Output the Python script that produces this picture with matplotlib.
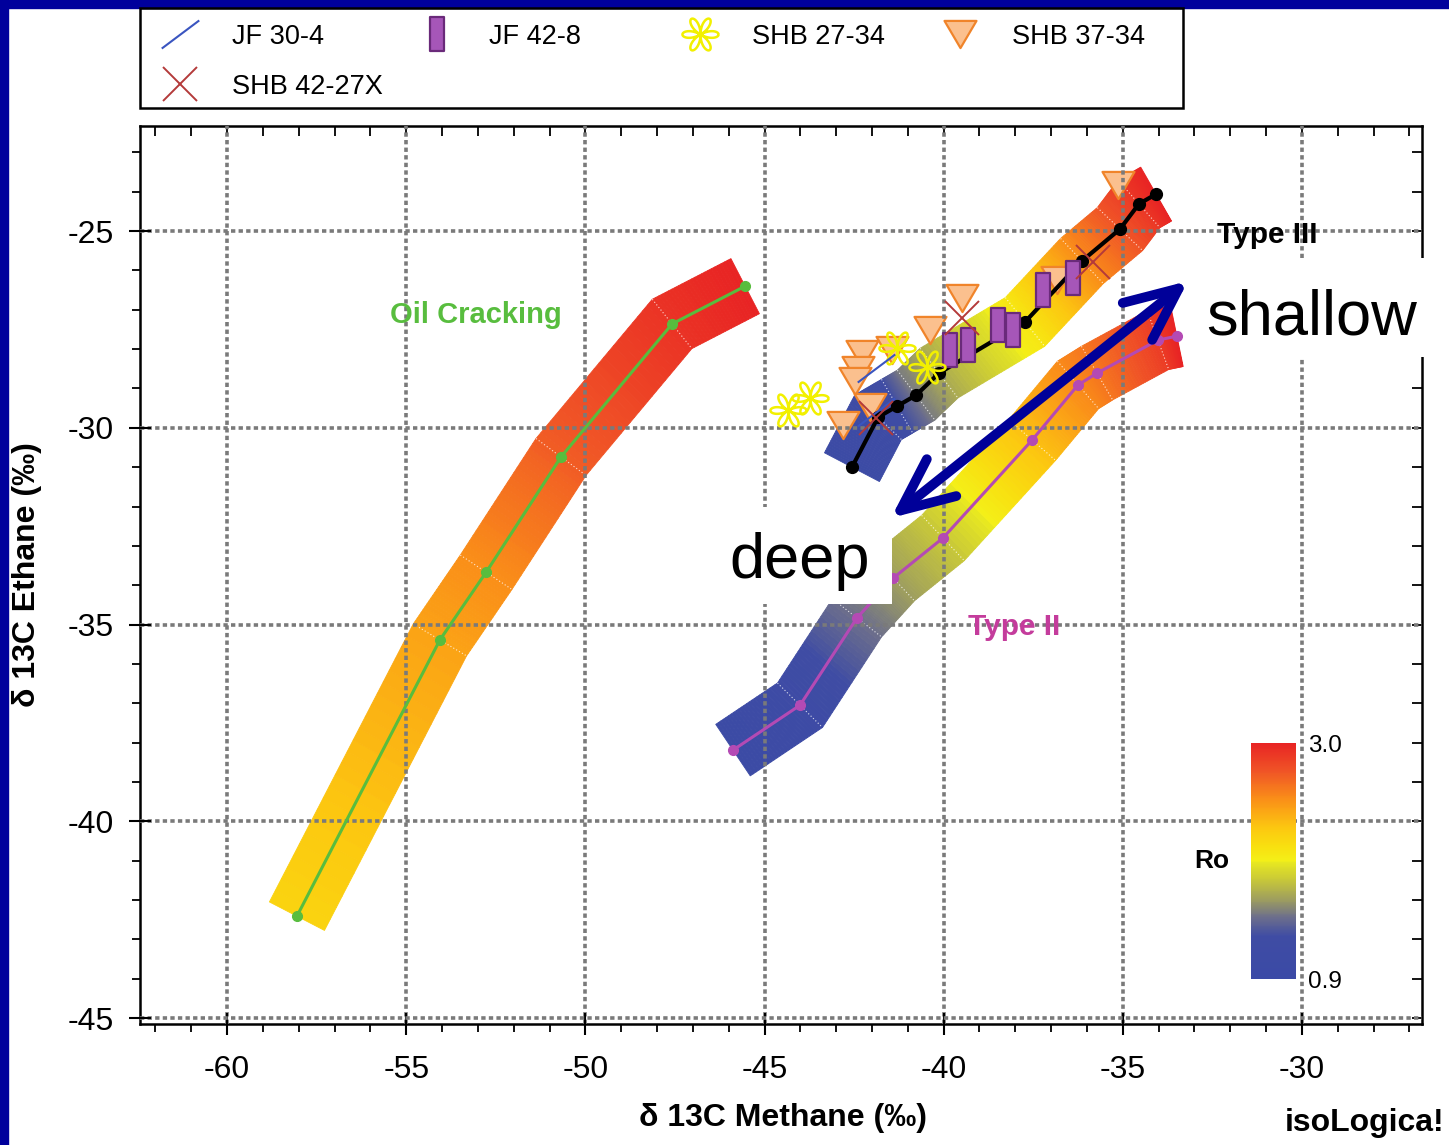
import numpy as np
import matplotlib
matplotlib.use("Agg")
import matplotlib.pyplot as plt
from matplotlib.collections import PolyCollection, LineCollection
from matplotlib.colors import LinearSegmentedColormap, Normalize
from matplotlib.path import Path
from matplotlib.patches import Rectangle
from matplotlib.ticker import MultipleLocator, NullFormatter
import matplotlib.cm as cm

plt.rcParams['font.family'] = ['Liberation Sans', 'DejaVu Sans']
plt.rcParams['axes.unicode_minus'] = False

# --- maturity curves (d13C methane, d13C ethane, Ro along the curve) ---
oil_x = [-58.05, -54.06, -52.77, -50.68, -47.58, -45.54]
oil_y = [-42.41, -35.39, -33.67, -30.74, -27.36, -26.40]
oil_ro = [2.16, 2.41, 2.50, 2.71, 2.92, 3.0]

t2_x = [-45.88, -44.01, -42.42, -41.41, -40.02, -37.53, -36.25, -35.72, -34.02, -33.49]
t2_y = [-38.19, -37.05, -34.83, -33.82, -32.80, -30.31, -28.91, -28.61, -27.77, -27.67]
t2_ro = [1.00, 1.15, 1.45, 1.61, 1.78, 2.28, 2.52, 2.60, 2.87, 3.0]

t3_x = [-42.56, -41.83, -41.30, -40.77, -40.13, -37.73, -36.14, -35.08, -34.55, -34.07]
t3_y = [-31.00, -29.73, -29.45, -29.17, -28.61, -27.31, -25.76, -24.95, -24.31, -24.06]
t3_ro = [1.03, 1.15, 1.28, 1.49, 1.66, 2.03, 2.50, 2.75, 2.90, 3.0]

# --- samples ---
jf304_x = [-41.89, -41.89]
jf304_y = [-28.48, -29.60]

jf428_x = [-39.82, -39.32, -38.48, -38.06, -37.23, -36.39]
jf428_y = [-28.02, -27.90, -27.39, -27.52, -26.50, -26.19]

shb2734_x = [-44.34, -43.73, -41.30, -40.46]
shb2734_y = [-29.55, -29.24, -27.97, -28.46]

shb3734_x = [-35.13, -39.48, -40.38, -41.44, -42.28, -42.39, -42.47, -42.05, -42.81, -36.84]
shb3734_y = [-23.83, -26.70, -27.52, -28.02, -28.13, -28.53, -28.81, -29.47, -29.93, -26.25]

shb4227_x = [-41.89, -39.49, -35.83]
shb4227_y = [-29.75, -27.21, -25.79]

legend_labels = ['JF 30-4', 'JF 42-8', 'SHB 27-34', 'SHB 37-34', 'SHB 42-27X']

# depth arrow end points (deep -> shallow)
arrow_deep = (-41.47, -32.29)
arrow_shallow = (-33.18, -26.27)

W, H = 1449, 1145

ro_cmap = LinearSegmentedColormap.from_list('ro', [
    (0.00, '#3b4aa6'), (0.18, '#3f4ca4'), (0.26, '#6c6e8c'), (0.33, '#9a9a62'),
    (0.42, '#c8c838'), (0.495, '#e8e820'), (0.50, '#f4f018'), (0.56, '#f8e010'),
    (0.64, '#fcc810'), (0.76, '#fa9018'), (0.88, '#f05526'), (1.00, '#e82424')])
ro_norm = Normalize(0.9, 3.0)

# marker shapes
th = np.linspace(0, 2 * np.pi, 241)
r = np.abs(np.cos(3 * th))
flower = Path(np.column_stack([r * np.cos(th), r * np.sin(th)]))
bar = Path([(-0.38, -1), (0.38, -1), (0.38, 1), (-0.38, 1), (-0.38, -1)],
           [Path.MOVETO, Path.LINETO, Path.LINETO, Path.LINETO, Path.CLOSEPOLY])
tri = Path([(0, -0.85), (-1, 0.85), (1, 0.85), (0, -0.85)],
           [Path.MOVETO, Path.LINETO, Path.LINETO, Path.CLOSEPOLY])
slash = Path([(-1, -0.75), (1, 0.75)], [Path.MOVETO, Path.LINETO])

styles = {
    'JF 30-4': dict(marker=slash, ms=27, mec='#3a55c0', mfc='none', mew=1.5),
    'JF 42-8': dict(marker=bar, ms=25, mec='#6a2a7a', mfc='#a656b8', mew=1.6),
    'SHB 27-34': dict(marker=flower, ms=26, mec='#f2f000', mfc='none', mew=1.8),
    'SHB 37-34': dict(marker=tri, ms=23, mec='#f0842a', mfc='#fbc08e', mew=1.6),
    'SHB 42-27X': dict(marker='x', ms=24, mec='#b43a3a', mew=1.4),
}


def draw_band(ax, xs, ys, ro, width_px=62, nsub=24):
    pts = ax.transData.transform(np.column_stack([xs, ys]))
    inv = ax.transData.inverted()
    d = np.diff(pts, axis=0)
    seg_n = np.column_stack([-d[:, 1], d[:, 0]]) / np.hypot(d[:, 0], d[:, 1])[:, None]
    vn = np.empty_like(pts)
    vn[0], vn[-1] = seg_n[0], seg_n[-1]
    for i in range(1, len(pts) - 1):
        m = seg_n[i - 1] + seg_n[i]
        m /= np.hypot(*m)
        vn[i] = m / np.dot(m, seg_n[i])
    left = pts + vn * width_px / 2
    right = pts - vn * width_px / 2
    polys, cols = [], []
    for i in range(len(pts) - 1):
        for j in range(nsub):
            t0, t1 = j / nsub, (j + 1) / nsub
            quad = np.array([left[i] + (left[i + 1] - left[i]) * t0,
                             left[i] + (left[i + 1] - left[i]) * t1,
                             right[i] + (right[i + 1] - right[i]) * t1,
                             right[i] + (right[i + 1] - right[i]) * t0])
            polys.append(inv.transform(quad))
            cols.append(ro_cmap(ro_norm(ro[i] + (ro[i + 1] - ro[i]) * (t0 + t1) / 2)))
    ax.add_collection(PolyCollection(polys, facecolors=cols, edgecolors=cols,
                                     linewidths=0.6, zorder=1))
    seps = [inv.transform(np.array([left[i], right[i]])) for i in range(1, len(pts) - 1)]
    ax.add_collection(LineCollection(seps, colors='white', linewidths=0.8,
                                     linestyles=(0, (1, 2)), alpha=0.8, zorder=1.1))


fig = plt.figure(figsize=(W / 100, H / 100), dpi=100)

# overlay in pixel coordinates: border, legend, footer
lax = fig.add_axes([0, 0, 1, 1])
lax.set_xlim(0, W)
lax.set_ylim(H, 0)
lax.axis('off')
lax.add_patch(Rectangle((0, 0), 8, H, color='#00009c'))
lax.add_patch(Rectangle((0, 0), W, 8, color='#00009c'))
lax.add_patch(Rectangle((140, 8), 1043, 100, fill=False, lw=1.8, ec='black'))
key_pos = [(180, 34), (437, 34), (700, 34), (960, 34), (180, 84)]
for lab, (kx, ky) in zip(legend_labels, key_pos):
    lax.plot([kx], [ky], ls='none', **styles[lab])
    lax.text(kx + 52, ky + 10, lab, fontsize=19.5, va='baseline', ha='left')
lax.text(1365, 1123, 'isoLogica!', fontsize=23, fontweight='bold',
         ha='center', va='center')

ax = fig.add_axes([140 / W, 1 - 1024 / H, (1422 - 140) / W, (1024 - 126) / H])
ax.set_xlim(-62.43, -26.65)
ax.set_ylim(-45.15, -22.33)

draw_band(ax, oil_x, oil_y, oil_ro)
draw_band(ax, t2_x, t2_y, t2_ro)
draw_band(ax, t3_x, t3_y, t3_ro)

ax.plot(shb3734_x, shb3734_y, ls='none', zorder=2, **styles['SHB 37-34'])

ax.plot(oil_x, oil_y, '-o', color='#58bd3e', lw=2.2, ms=7, zorder=4)
ax.plot(t2_x, t2_y, '-o', color='#b44ab4', lw=2.2, ms=7, zorder=4)
ax.plot(t3_x, t3_y, '-o', color='black', lw=3, ms=8.5, zorder=4)

ax.plot(jf428_x, jf428_y, ls='none', zorder=5, **styles['JF 42-8'])
ax.plot(shb2734_x, shb2734_y, ls='none', zorder=5, **styles['SHB 27-34'])
ax.plot(jf304_x, jf304_y, ls='none', zorder=5, **styles['JF 30-4'])
ax.plot(shb4227_x, shb4227_y, ls='none', zorder=5, **styles['SHB 42-27X'])

ax.text(-53.05, -27.34, 'Oil Cracking', color='#58bd3e', fontsize=21,
        fontweight='bold', ha='center', va='baseline', zorder=5)
ax.text(-38.02, -35.27, 'Type II', color='#c43c9c', fontsize=21.5,
        fontweight='bold', ha='center', va='baseline', zorder=5)
ax.text(-30.96, -25.30, 'Type III', color='black', fontsize=21.5,
        fontweight='bold', ha='center', va='baseline', zorder=5)

# white label boxes, arrow and depth labels
ax.add_patch(Rectangle((1188, 258), 261, 99, transform=lax.transData,
                       fc='white', ec='none', zorder=6, clip_on=False))
ax.add_patch(Rectangle((715, 507), 177, 97, transform=lax.transData,
                       fc='white', ec='none', zorder=6, clip_on=False))
ax.annotate('', xy=arrow_shallow, xytext=arrow_deep,
            arrowprops=dict(arrowstyle='<->,head_length=1.9,head_width=0.85',
                            lw=7, color='#000099', shrinkA=0, shrinkB=0,
                            mutation_scale=20), zorder=7)
ax.text(-29.74, -27.64, 'shallow', fontsize=45.5, ha='center', va='baseline',
        zorder=8, clip_on=False)
ax.text(-44.01, -33.82, 'deep', fontsize=45.5, ha='center', va='baseline', zorder=8)

ax.xaxis.set_major_locator(MultipleLocator(5))
ax.yaxis.set_major_locator(MultipleLocator(5))
ax.xaxis.set_minor_locator(MultipleLocator(1))
ax.yaxis.set_minor_locator(MultipleLocator(1))
ax.set_axisbelow(False)
ax.grid(True, which='major', color='#7a7a7a', linestyle=(0, (1.2, 0.9)), linewidth=2.6)
ax.tick_params(which='major', direction='inout', length=16, width=1.5, labelsize=23)
ax.tick_params(which='minor', direction='out', length=6, width=1.3)
ax.tick_params(axis='x', which='major', pad=14)
ax.tick_params(axis='y', which='major', pad=11)
for s in ax.spines.values():
    s.set_linewidth(1.8)

# inward ticks on top and right
for sec in (ax.secondary_xaxis('top'), ax.secondary_yaxis('right')):
    sec_axis = sec.xaxis if hasattr(sec, 'xaxis') and sec._orientation == 'x' else sec.yaxis
    sec_axis.set_major_locator(MultipleLocator(1))
    sec_axis.set_major_formatter(NullFormatter())
    sec.tick_params(which='both', direction='in', length=7, width=1.3)
    sec.spines[:].set_visible(False)

ax.set_xlabel('δ 13C Methane (‰)', fontsize=23, fontweight='bold', va='center')
ax.xaxis.set_label_coords((783 - 140) / 1282, -(1118 - 1024) / 898)
ax.set_ylabel('δ 13C Ethane (‰)', fontsize=23, fontweight='bold', va='center')
ax.yaxis.set_label_coords((27 - 140) / 1282, (1024 - 575) / 898)

# Ro colour scale
cax = fig.add_axes([1251 / W, 1 - 979 / H, 45 / W, 236 / H])
sm = cm.ScalarMappable(norm=ro_norm, cmap=ro_cmap)
cb = fig.colorbar(sm, cax=cax, ticks=[0.9, 3.0])
cb.ax.set_yticklabels(['0.9', '3.0'])
cb.ax.tick_params(length=0, pad=9, labelsize=17.5)
cb.outline.set_visible(False)
cax.text(-0.87, 0.5, 'Ro', transform=cax.transAxes, fontsize=19,
         fontweight='bold', ha='center', va='center')

fig.savefig('out.png', dpi=100)
